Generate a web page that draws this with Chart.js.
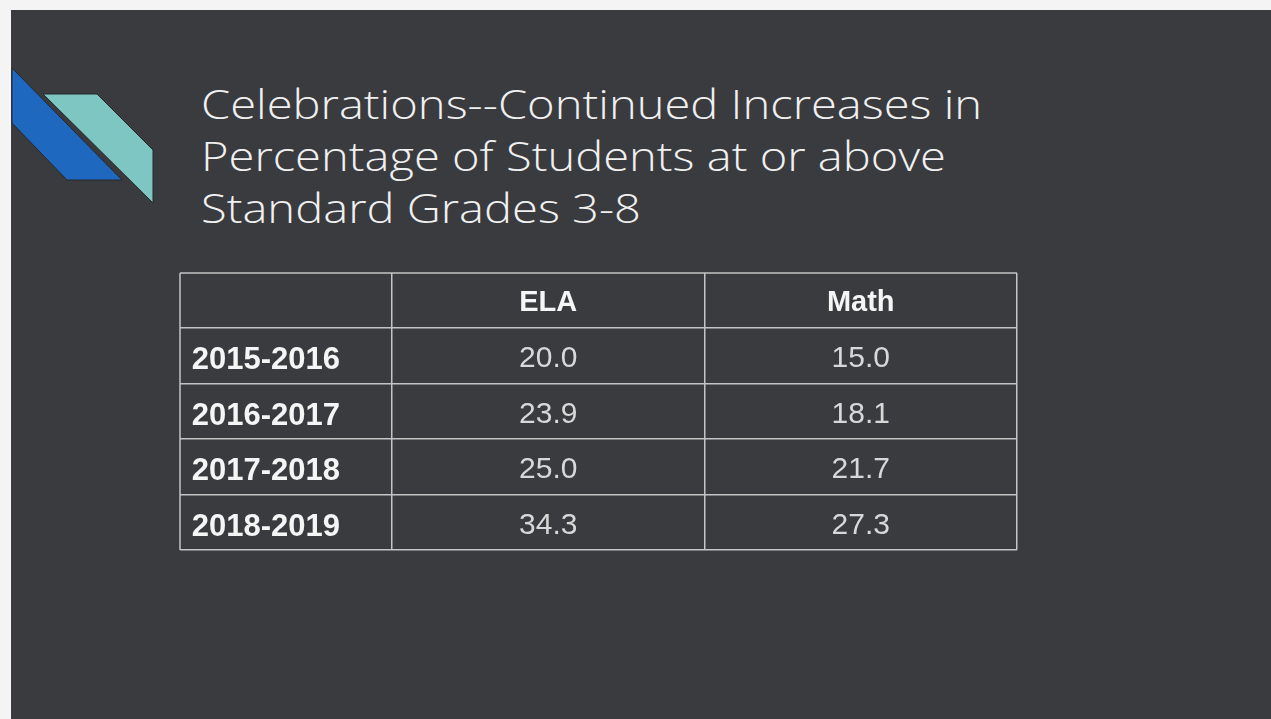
<!DOCTYPE html>
<html>
<head>
<meta charset="utf-8">
<script src="https://cdn.jsdelivr.net/npm/chart.js@4.4.0/dist/chart.umd.min.js"></script>
<style>
	html, body { margin: 0; padding: 0; background: #f4f4f4; }
	body { width: 1271px; height: 719px; position: relative; overflow: hidden; }
	.slide { position: absolute; left: 11px; top: 10px; width: 1260px; height: 709px; background: #3a3b3f; }
	.deco { position: absolute; left: 0; top: 0; }
	.title {
		position: absolute; left: 201px; top: 78px;
		font-family: "Open Sans", sans-serif; font-weight: 300;
		font-size: 40px; line-height: 52px; color: #f0f0f0;
		white-space: nowrap;
		transform: scaleX(1.177); transform-origin: left top;
	}
	#table { position: absolute; left: 0; top: 0; }
</style>
</head>
<body>
<div class="slide"></div>
<svg class="deco" width="200" height="230">
	<polygon points="12,68 122,180 67,180 12,123" fill="#1e68c0" stroke="#26292e" stroke-width="1" />
	<polygon points="43,94 97,94 153,150 153,203" fill="#7dc6c1" stroke="#26292e" stroke-width="1" />
</svg>
<div class="title">Celebrations--Continued Increases in<br>Percentage of Students at or above<br>Standard Grades 3-8</div>
<canvas id="table" width="1271" height="719"></canvas>
<script>
const years = ["2015-2016", "2016-2017", "2017-2018", "2018-2019"];
const subjects = ["ELA", "Math"];
const elaValues = [20.0, 23.9, 25.0, 34.3];
const mathValues = [15.0, 18.1, 21.7, 27.3];

const lineColor = "#c4c4c4";

// one invisible point per cell, the plugin writes the value there
const cellText = {
	id: "cellText",
	afterDatasetsDraw(chart) {
		const ctx = chart.ctx;
		ctx.save();
		ctx.font = "30px 'Liberation Sans', Arial, sans-serif";
		ctx.fillStyle = "#d8d8d8";
		ctx.textAlign = "center";
		ctx.textBaseline = "middle";
		chart.data.datasets.forEach((ds, di) => {
			const meta = chart.getDatasetMeta(di);
			meta.data.forEach((pt, i) => {
				ctx.fillText(ds.data[i].v.toFixed(1), pt.x, pt.y + 3);
			});
		});
		ctx.restore();
	},
};

// top and left edge of the table
const tableFrame = {
	id: "tableFrame",
	afterDraw(chart) {
		const { ctx, chartArea, scales } = chart;
		ctx.save();
		ctx.strokeStyle = lineColor;
		ctx.lineWidth = 1.5;
		ctx.beginPath();
		ctx.moveTo(scales.y.left, scales.x.top);
		ctx.lineTo(chartArea.right, scales.x.top);
		ctx.moveTo(scales.y.left, scales.x.top);
		ctx.lineTo(scales.y.left, chartArea.bottom);
		ctx.stroke();
		ctx.restore();
	},
};

const datasets = [
	{
		label: "ELA",
		data: years.map((y, i) => ({ x: "ELA", y: y, v: elaValues[i] })),
	},
	{
		label: "Math",
		data: years.map((y, i) => ({ x: "Math", y: y, v: mathValues[i] })),
	},
];

new Chart(document.getElementById("table"), {
	type: "scatter",
	data: { datasets },
	options: {
		responsive: false,
		animation: false,
		events: [],
		elements: { point: { radius: 0 } },
		layout: {
			padding: { left: 180, top: 273, right: 254, bottom: 169 },
		},
		plugins: {
			legend: { display: false },
			tooltip: { enabled: false },
		},
		scales: {
			x: {
				type: "category",
				labels: subjects,
				position: "top",
				offset: true,
				afterFit: (scale) => { scale.height = 55; },
				border: { display: false },
				grid: { offset: true, color: lineColor, lineWidth: 1.5, tickLength: 55 },
				ticks: {
					color: "#f5f5f5",
					padding: -47.5,
					font: { family: "'Liberation Sans', Arial, sans-serif", size: 29, weight: "bold" },
				},
			},
			y: {
				type: "category",
				labels: years,
				offset: true,
				afterFit: (scale) => { scale.width = 212; },
				border: { display: false },
				grid: { offset: true, color: lineColor, lineWidth: 1.5, tickLength: 212 },
				ticks: {
					color: "#f5f5f5",
					padding: -160,
					labelOffset: 5,
					font: { family: "'Liberation Sans', Arial, sans-serif", size: 31, weight: "bold" },
				},
			},
		},
	},
	plugins: [cellText, tableFrame],
});
</script>
</body>
</html>
